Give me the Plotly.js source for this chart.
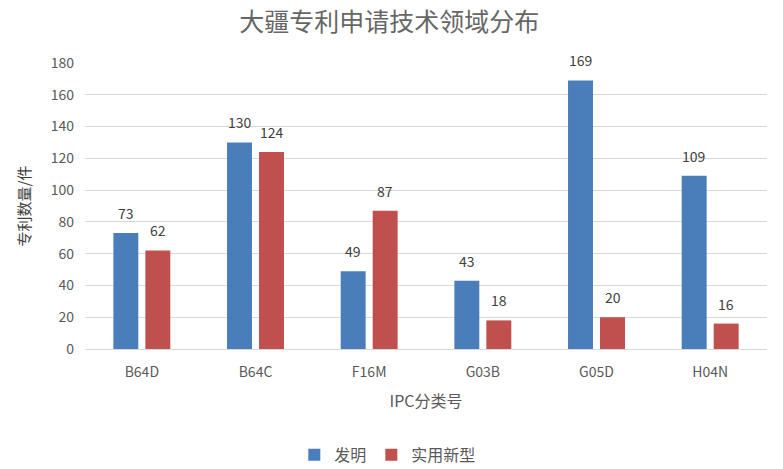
<!DOCTYPE html>
<html>
<head>
<meta charset="utf-8">
<script src="https://cdn.plot.ly/plotly-3.0.1.min.js"></script>
<style>
  html, body { margin: 0; padding: 0; background: #fff; }
  #chart { width: 783px; height: 469px; }
</style>
</head>
<body>
<div id="chart"></div>
<script>
const categories = ['B64D', 'B64C', 'F16M', 'G03B', 'G05D', 'H04N'];
const invention = [73, 130, 49, 43, 169, 109];
const utility = [62, 124, 87, 18, 20, 16];
const seriesNames = ['发明', '实用新型'];

const FONT = '"Noto Sans CJK SC", "Noto Sans", sans-serif';

function barTrace(name, values, color) {
    return {
        type: 'bar',
        name: name,
        x: categories,
        y: values,
        marker: {color: color},
        hoverinfo: 'x+y+name'
    };
}

// value labels sit well above the bars, like the Excel original
function labelAnnotations() {
    let notes = [];
    [invention, utility].forEach((values, s) => {
        values.forEach((v, i) => {
            notes.push({
                x: categories[i],
                y: v,
                text: String(v),
                showarrow: false,
                xshift: s === 0 ? -16 : 16,
                yshift: 20,
                yanchor: 'middle',
                font: {family: FONT, size: 14, color: '#404040'}
            });
        });
    });
    return notes;
}

Plotly.newPlot('chart', [
    barTrace(seriesNames[0], invention, '#4a7ebb'),
    barTrace(seriesNames[1], utility, '#c0504d')
], {
    width: 783,
    height: 469,
    margin: {l: 85, r: 16, t: 63, b: 120, autoexpand: false},
    paper_bgcolor: '#fff',
    plot_bgcolor: '#fff',
    font: {family: FONT, color: '#595959'},
    title: {
        text: '大疆专利申请技术领域分布',
        font: {family: FONT, size: 25, color: '#666666'},
        x: 0.497, xanchor: 'center',
        y: 0.953, yanchor: 'middle'
    },
    bargap: 0.437,
    bargroupgap: 0.22,
    xaxis: {
        showgrid: false,
        showline: true,
        linecolor: '#d9d9d9',
        linewidth: 1,
        ticks: '',
        ticklabelstandoff: 10,
        tickfont: {family: FONT, size: 14, color: '#595959'},
        title: {
            text: 'IPC分类号',
            standoff: 16,
            font: {family: FONT, size: 16, color: '#595959'}
        }
    },
    yaxis: {
        range: [0, 180],
        dtick: 20,
        showgrid: true,
        gridcolor: '#d9d9d9',
        gridwidth: 1,
        zeroline: false,
        showline: false,
        ticks: '',
        ticklabelstandoff: 10,
        tickfont: {family: FONT, size: 14, color: '#595959'},
        title: {
            text: '专利数量/件',
            standoff: 16,
            font: {family: FONT, size: 15, color: '#404040'}
        }
    },
    showlegend: true,
    legend: {
        orientation: 'h',
        x: 0.444, xanchor: 'center',
        y: -0.37, yanchor: 'middle',
        font: {family: FONT, size: 16, color: '#595959'},
        itemwidth: 30,
        traceorder: 'normal'
    },
    annotations: labelAnnotations()
}, {displayModeBar: false, staticPlot: true});
</script>
</body>
</html>
